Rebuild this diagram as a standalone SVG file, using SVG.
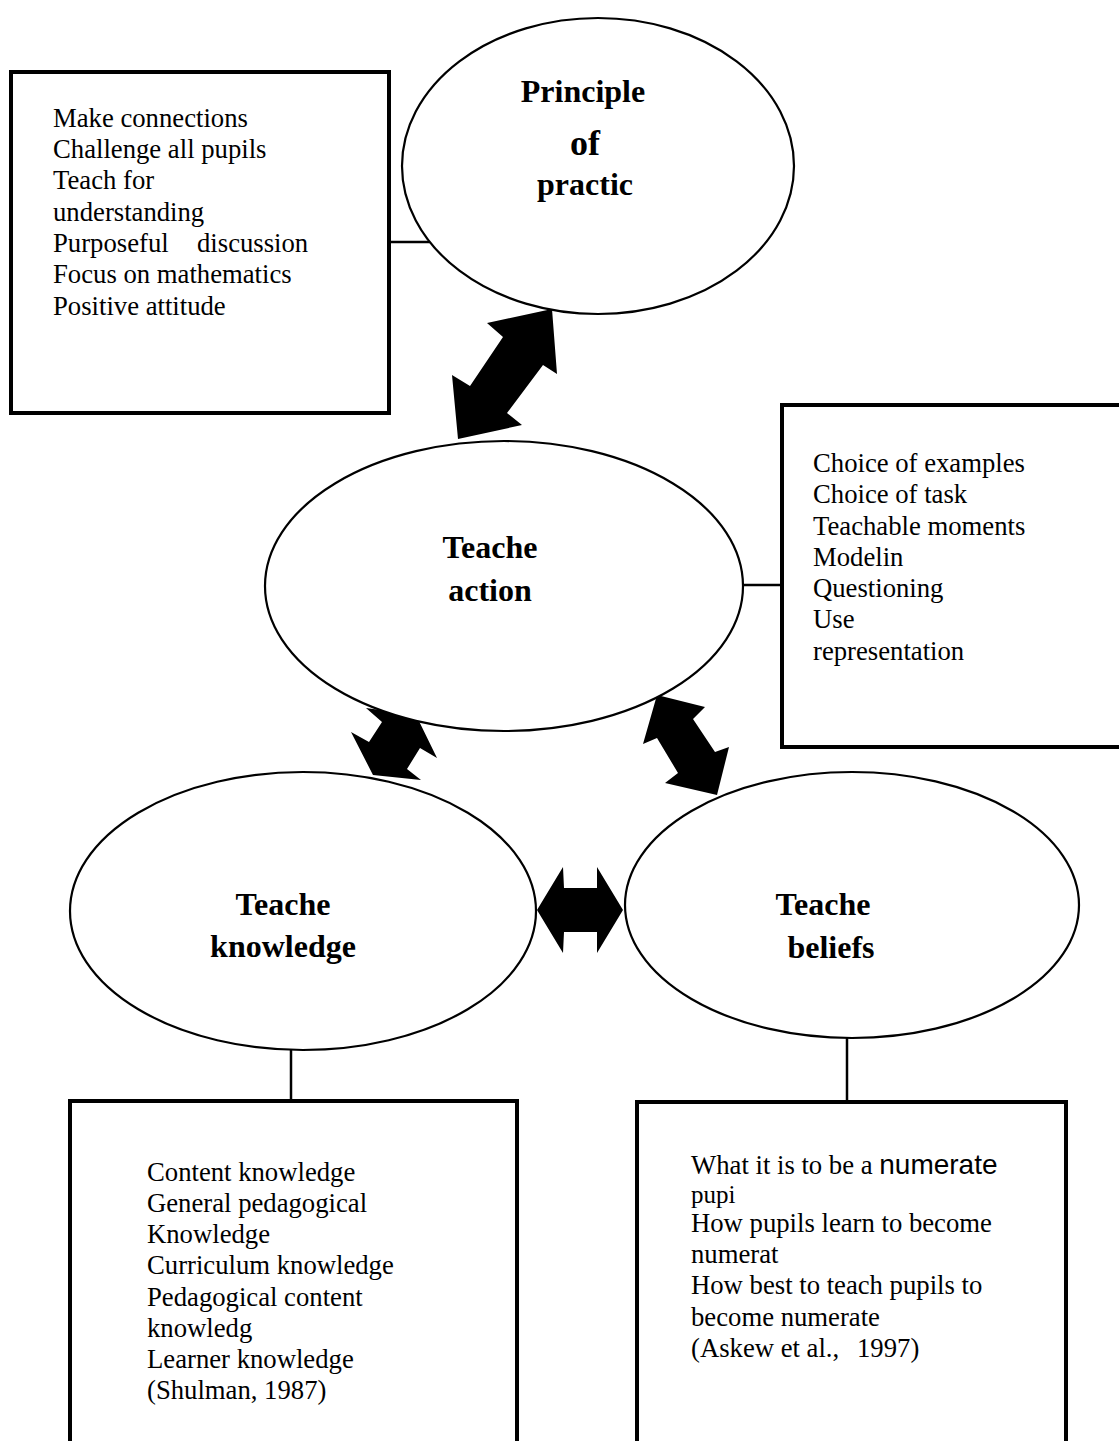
<svg xmlns="http://www.w3.org/2000/svg" width="1119" height="1441" viewBox="0 0 1119 1441">
<style>
.node{fill:#fff;stroke:#000;stroke-width:2.2}
.box{fill:#fff;stroke:#000;stroke-width:4}
.lbl{font-family:"Liberation Serif","Times New Roman",serif;font-weight:bold;font-size:32px;fill:#000;text-anchor:middle}
.txt{font-family:"Liberation Serif","Times New Roman",serif;font-size:26.7px;fill:#000}
.con{stroke:#000;stroke-width:2.5;fill:none}
.arr{fill:#000;stroke:none}
</style>
<rect width="1119" height="1441" fill="#fff"/>
<g id="connectors">
<line class="con" x1="389" y1="242" x2="431" y2="242"/>
<line class="con" x1="742" y1="585" x2="782" y2="585"/>
<line class="con" x1="291" y1="1049" x2="291" y2="1101"/>
<line class="con" x1="847" y1="1038" x2="847" y2="1101"/>
<polygon class="arr" points="552,309 557,374 543,365 507,413 522,425 458,439 452,375 470,386 503,337 487,323"/>
<polygon class="arr" points="416,715 437,758 420,748 407,769 421,780 373,775 351,732 369,742 382,722 366,708"/>
<polygon class="arr" points="657,695 705,707 693,719 715,752 729,747 717,795 665,783 678,773 657,738 643,744"/>
<polygon class="arr" points="537,910 563,867 564,888 597,888 597,867 623,910 597,953 597,932 564,932 563,953"/>
</g>
<g id="principles-box">
<rect class="box" x="11" y="72" width="378" height="341"/>
<text class="txt" x="53" y="127">Make connections</text>
<text class="txt" x="53" y="158">Challenge all pupils</text>
<text class="txt" x="53" y="189">Teach for</text>
<text class="txt" x="53" y="221">understanding</text>
<text class="txt" x="53" y="252">Purposeful</text>
<text class="txt" x="197" y="252">discussion</text>
<text class="txt" x="53" y="283">Focus on mathematics</text>
<text class="txt" x="53" y="315">Positive attitude</text>
</g>
<g id="principle-node">
<ellipse class="node" cx="598" cy="166" rx="196" ry="148"/>
<text class="lbl" x="583" y="102">Principle</text>
<text class="lbl" x="585" y="155" style="font-size:36px">of</text>
<text class="lbl" x="585" y="195">practic</text>
</g>
<g id="action-node">
<ellipse class="node" cx="504" cy="586" rx="239" ry="145"/>
<text class="lbl" x="490" y="558">Teache</text>
<text class="lbl" x="490" y="601">action</text>
</g>
<g id="action-box">
<rect class="box" x="782" y="405" width="360" height="342"/>
<text class="txt" x="813" y="472">Choice of examples</text>
<text class="txt" x="813" y="503">Choice of task</text>
<text class="txt" x="813" y="535">Teachable moments</text>
<text class="txt" x="813" y="566">Modelin</text>
<text class="txt" x="813" y="597">Questioning</text>
<text class="txt" x="813" y="628">Use</text>
<text class="txt" x="813" y="660">representation</text>
</g>
<g id="knowledge-node">
<ellipse class="node" cx="303" cy="911" rx="233" ry="139"/>
<text class="lbl" x="283" y="915">Teache</text>
<text class="lbl" x="283" y="957">knowledge</text>
</g>
<g id="beliefs-node">
<ellipse class="node" cx="852" cy="905" rx="227" ry="133"/>
<text class="lbl" x="823" y="915">Teache</text>
<text class="lbl" x="831" y="958">beliefs</text>
</g>
<g id="knowledge-box">
<path class="box" d="M70,1460 V1101 H517 V1460"/>
<text class="txt" x="147" y="1181">Content knowledge</text>
<text class="txt" x="147" y="1212">General pedagogical</text>
<text class="txt" x="147" y="1243">Knowledge</text>
<text class="txt" x="147" y="1274">Curriculum knowledge</text>
<text class="txt" x="147" y="1306">Pedagogical content</text>
<text class="txt" x="147" y="1337">knowledg</text>
<text class="txt" x="147" y="1368">Learner knowledge</text>
<text class="txt" x="147" y="1399">(Shulman, 1987)</text>
</g>
<g id="beliefs-box">
<path class="box" d="M637,1460 V1102 H1066 V1460"/>
<text class="txt" x="691" y="1174">What it is to be a <tspan style="font-family:'Liberation Sans',Arial,sans-serif;font-size:28px">numerate</tspan></text>
<text class="txt" x="691" y="1203" style="font-size:25px">pupi</text>
<text class="txt" x="691" y="1232">How pupils learn to become</text>
<text class="txt" x="691" y="1263">numerat</text>
<text class="txt" x="691" y="1294">How best to teach pupils to</text>
<text class="txt" x="691" y="1326">become numerate</text>
<text class="txt" x="691" y="1357">(Askew et al.,</text>
<text class="txt" x="857" y="1357">1997)</text>
</g>
</svg>
